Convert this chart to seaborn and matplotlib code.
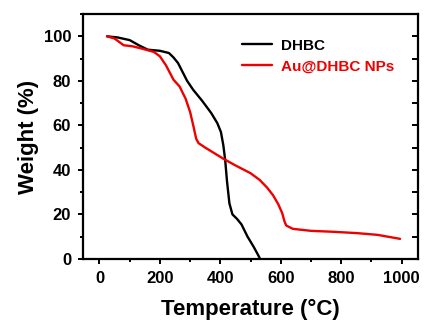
import matplotlib
matplotlib.use("Agg")
import matplotlib.pyplot as plt
import seaborn as sns
import pandas as pd
from matplotlib.ticker import MultipleLocator

sns.set_theme(style="ticks")
plt.rcParams['font.family'] = ['Liberation Sans', 'DejaVu Sans']
plt.rcParams['font.weight'] = 'bold'
plt.rcParams['text.color'] = 'black'
plt.rcParams['axes.labelcolor'] = 'black'
plt.rcParams['xtick.color'] = 'black'
plt.rcParams['ytick.color'] = 'black'

dhbc_T = [25, 60, 100, 130, 160, 200, 230, 245, 260, 275, 290, 310, 340, 370, 390, 402, 410, 416, 422, 430, 440, 455, 470, 490, 510, 530]
dhbc_W = [100, 99.5, 98.3, 96, 94, 93.5, 92.5, 90.5, 88, 84, 80, 76, 71, 65.5, 61, 57, 51, 44.5, 35, 25, 20, 18, 15.5, 10, 5.5, 0.5]

au_T = [25, 50, 80, 110, 140, 180, 200, 220, 245, 265, 285, 300, 312, 320, 328, 350, 380, 410, 450, 500, 530, 555, 575, 592, 605, 612, 618, 640, 700, 770, 850, 920, 995]
au_W = [100, 99, 96, 95.5, 94.5, 93, 91, 87, 80.5, 77.5, 72, 66, 59, 54, 52, 50, 47.5, 45, 42, 38.5, 35.5, 32, 28.5, 24.5, 20.5, 17, 15, 13.5, 12.6, 12.2, 11.6, 10.8, 9]

series_names = ["DHBC", "Au@DHBC NPs"]
colors = ["#000000", "#ee0000"]

df = pd.concat([
    pd.DataFrame({"T": dhbc_T, "W": dhbc_W, "s": series_names[0]}),
    pd.DataFrame({"T": au_T, "W": au_W, "s": series_names[1]}),
])

fig = plt.figure(figsize=(4.25, 3.2), dpi=100)
ax = fig.add_axes([0.195, 0.191, 0.789, 0.765])
sns.lineplot(data=df, x="T", y="W", hue="s", palette=colors, sort=False,
             linewidth=1.7, ax=ax, legend=True)

ax.set_xlim(-55, 1055)
ax.set_ylim(0, 110)
ax.xaxis.set_major_locator(MultipleLocator(200))
ax.xaxis.set_minor_locator(MultipleLocator(100))
ax.yaxis.set_minor_locator(MultipleLocator(10))
ax.set_yticks([0, 20, 40, 60, 80, 100])

for sp in ax.spines.values():
    sp.set_linewidth(1.6)
    sp.set_color("black")
    sp.set_visible(True)

ax.tick_params(which="both", direction="out", width=1.4, colors="black",
               labelsize=12, top=False, right=False, pad=5)
ax.tick_params(which="major", length=3.5)
ax.tick_params(which="minor", length=2.5)
for lab in ax.get_xticklabels() + ax.get_yticklabels():
    lab.set_fontweight("bold")

# right side inward ticks
ax2 = ax.secondary_yaxis("right")
ax2.yaxis.set_major_locator(MultipleLocator(10))
ax2.tick_params(direction="in", length=4, width=1.4, labelright=False)
ax2.spines["right"].set_visible(False)

ax.set_xlabel("Temperature (°C)", fontsize=16, fontweight="bold", labelpad=9.5)
ax.set_ylabel("Weight (%)", fontsize=16, fontweight="bold", labelpad=3)

handles, labels = ax.get_legend_handles_labels()
leg = ax.legend(handles, labels, loc="upper left", frameon=False,
                bbox_to_anchor=(0.435, 0.955),
                handlelength=1.9, handletextpad=0.6, labelspacing=0.45,
                prop={"weight": "bold", "size": 11})
for txt, c in zip(leg.get_texts(), colors):
    txt.set_color(c)

fig.savefig("out.png", dpi=100)
